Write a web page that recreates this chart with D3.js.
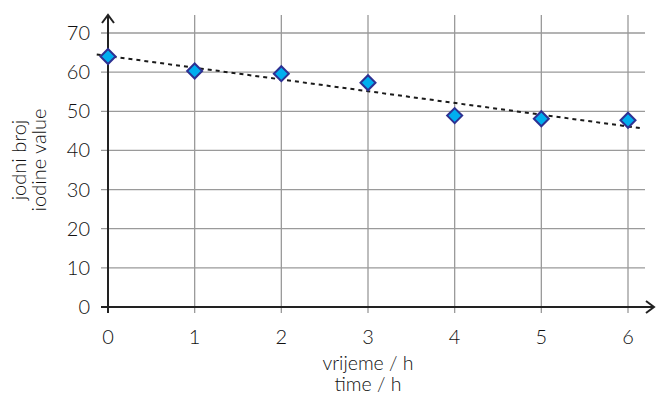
<!DOCTYPE html>
<html>
<head>
<meta charset="utf-8">
<script src="https://cdn.jsdelivr.net/npm/d3@7"></script>
<style>
  body { margin: 0; background: #fff; }
  text { font-family: Lato, "Open Sans", sans-serif; font-weight: 300; fill: #111; }
</style>
</head>
<body>
<script>
// values
const hours = [0, 1, 2, 3, 4, 5, 6];
const iodine = [64.0, 60.3, 59.6, 57.3, 48.9, 48.1, 47.7];
const yTicks = [0, 10, 20, 30, 40, 50, 60, 70];
const yTitle = ["jodni broj", "iodine value"];
const xTitle = ["vrijeme / h", "time / h"];

const W = 656, H = 396;
const svg = d3.select("body").append("svg").attr("width", W).attr("height", H);

const x = d3.scaleLinear().domain([0, 6]).range([108, 628]);
const y = d3.scaleLinear().domain([0, 70]).range([307, 33]);

// grid
svg.append("g").selectAll("line").data(yTicks.slice(1)).join("line")
  .attr("x1", 101).attr("x2", 645)
  .attr("y1", d => y(d)).attr("y2", d => y(d))
  .attr("stroke", "#9a9a9a").attr("stroke-width", 1.3);
svg.append("g").selectAll("line").data(hours.slice(1)).join("line")
  .attr("x1", d => x(d)).attr("x2", d => x(d))
  .attr("y1", 15).attr("y2", 313)
  .attr("stroke", "#9a9a9a").attr("stroke-width", 1.3);
// tick stub at 0
svg.append("line").attr("x1", 101).attr("x2", 108).attr("y1", y(0)).attr("y2", y(0))
  .attr("stroke", "#222").attr("stroke-width", 2);
svg.append("line").attr("x1", x(0)).attr("x2", x(0)).attr("y1", 307).attr("y2", 313)
  .attr("stroke", "#222").attr("stroke-width", 2);

// axes with arrows
svg.append("line").attr("x1", x(0)).attr("x2", x(0)).attr("y1", 308).attr("y2", 15)
  .attr("stroke", "#222").attr("stroke-width", 2);
svg.append("path").attr("d", `M${x(0) - 6},${23} L${x(0)},${15} L${x(0) + 6},${23}`)
  .attr("fill", "none").attr("stroke", "#222").attr("stroke-width", 2);
svg.append("line").attr("x1", x(0) - 1).attr("x2", 654).attr("y1", y(0)).attr("y2", y(0))
  .attr("stroke", "#222").attr("stroke-width", 2);
svg.append("path").attr("d", `M${646},${y(0) - 6} L${654},${y(0)} L${646},${y(0) + 6}`)
  .attr("fill", "none").attr("stroke", "#222").attr("stroke-width", 2);

// tick labels
svg.append("g").selectAll("text").data(yTicks).join("text")
  .attr("x", 90).attr("y", d => y(d) + 7)
  .attr("text-anchor", "end").attr("font-size", 20)
  .text(d => d);
svg.append("g").selectAll("text").data(hours).join("text")
  .attr("x", d => x(d)).attr("y", 344)
  .attr("text-anchor", "middle").attr("font-size", 20)
  .text(d => d);

// axis titles
svg.append("g").selectAll("text").data(yTitle).join("text")
  .attr("transform", (d, i) => `translate(${26 + i * 20},160) rotate(-90)`)
  .attr("text-anchor", "middle").attr("font-size", 20)
  .text(d => d);
svg.append("g").selectAll("text").data(xTitle).join("text")
  .attr("x", 368).attr("y", (d, i) => 370 + i * 21)
  .attr("text-anchor", "middle").attr("font-size", 19.5)
  .text(d => d);

// linear trendline
const mx = d3.mean(hours), my = d3.mean(iodine);
const slope = d3.sum(hours, (h, i) => (h - mx) * (iodine[i] - my)) / d3.sum(hours, h => (h - mx) ** 2);
const icpt = my - slope * mx;
const trendX = [-0.13, 6.17];
svg.append("path")
  .attr("d", d3.line().x(d => x(d)).y(d => y(icpt + slope * d))(trendX))
  .attr("fill", "none").attr("stroke", "#1a1a1a").attr("stroke-width", 2)
  .attr("stroke-dasharray", "4,4");

// markers
svg.append("g").selectAll("path").data(hours).join("path")
  .attr("transform", (d, i) => `translate(${x(d)},${y(iodine[i])})`)
  .attr("d", "M0,-7.5L7.5,0L0,7.5L-7.5,0Z")
  .attr("fill", "#00aeef").attr("stroke", "#2e3192").attr("stroke-width", 2);
</script>
</body>
</html>
